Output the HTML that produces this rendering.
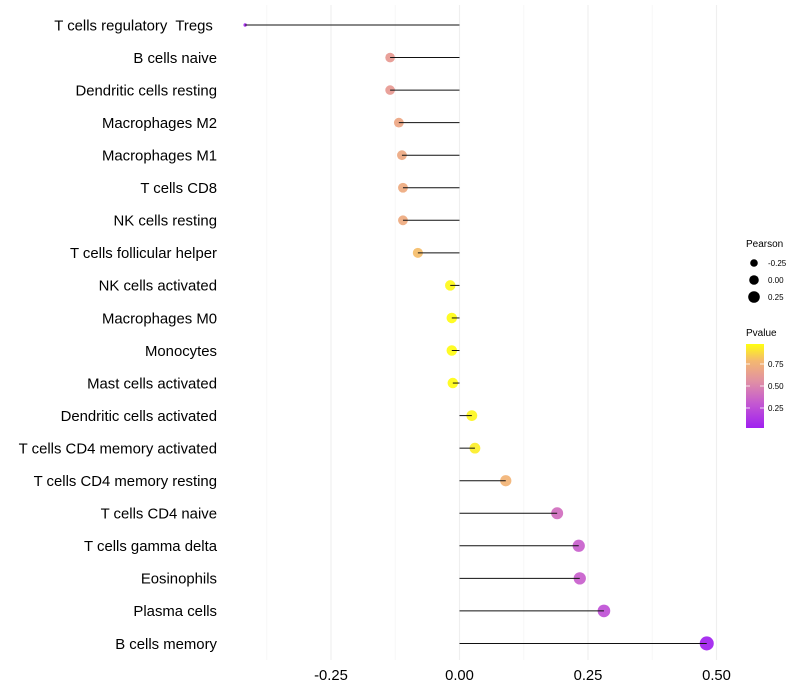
<!DOCTYPE html>
<html><head><meta charset="utf-8"><style>
html,body{margin:0;padding:0;background:#fff;}
svg{display:block;font-family:"Liberation Sans",sans-serif;}
</style></head><body>
<svg id="chart" width="800" height="700" viewBox="0 0 800 700">
<g id="grid"></g>
<g id="marks"></g>
<g id="ylabels"></g>
<g id="xlabels"></g>
<g id="legend">
<defs><linearGradient id="pg" x1="0" y1="1" x2="0" y2="0">
<stop offset="0" stop-color="#a020f0"/><stop offset="0.3" stop-color="#c55ad0"/><stop offset="0.55" stop-color="#e08fa5"/><stop offset="0.8" stop-color="#f4b870"/><stop offset="1" stop-color="#ffff10"/></linearGradient></defs>
<text x="746" y="247" font-size="10">Pearson</text>
<circle cx="754" cy="263" r="3.8" fill="#000"/>
<text x="768" y="266" font-size="8">-0.25</text>
<circle cx="754" cy="280" r="4.8" fill="#000"/>
<text x="768" y="283" font-size="8">0.00</text>
<circle cx="754" cy="297" r="5.8" fill="#000"/>
<text x="768" y="300" font-size="8">0.25</text>
<text x="746" y="336" font-size="10">Pvalue</text>
<rect x="746" y="344" width="18" height="84" fill="url(#pg)"/>
<g stroke="#fff" stroke-width="1" opacity="0.8"><line x1="746" x2="750" y1="364" y2="364"/><line x1="760" x2="764" y1="364" y2="364"/><line x1="746" x2="750" y1="386" y2="386"/><line x1="760" x2="764" y1="386" y2="386"/><line x1="746" x2="750" y1="408" y2="408"/><line x1="760" x2="764" y1="408" y2="408"/></g>
<text x="768" y="367" font-size="8">0.75</text>
<text x="768" y="389" font-size="8">0.50</text>
<text x="768" y="411" font-size="8">0.25</text>
</g>
</svg>
<script>
const categories=["T cells regulatory  Tregs ","B cells naive","Dendritic cells resting","Macrophages M2","Macrophages M1","T cells CD8","NK cells resting","T cells follicular helper","NK cells activated","Macrophages M0","Monocytes","Mast cells activated","Dendritic cells activated","T cells CD4 memory activated","T cells CD4 memory resting","T cells CD4 naive","T cells gamma delta","Eosinophils","Plasma cells","B cells memory"];
const pearson=[-0.417,-0.135,-0.135,-0.118,-0.112,-0.110,-0.110,-0.081,-0.018,-0.015,-0.015,-0.013,0.024,0.030,0.090,0.190,0.232,0.234,0.281,0.481];
const pvalue=[0.05,0.62,0.62,0.69,0.70,0.71,0.71,0.80,0.96,0.97,0.97,0.97,0.95,0.93,0.76,0.40,0.33,0.33,0.26,0.03];
const xTicks=[-0.25,0,0.25,0.5];
const xTickLabels=["-0.25","0.00","0.25","0.50"];
const minorTicks=[-0.375,-0.125,0.125,0.375];
const NS="http://www.w3.org/2000/svg";
function xs(v){return 459.5+v*514;}
function ys(i){return 25+i*32.55;}
function rs(v){return v<=-0.4?1.7:5.3+3.6*v;}
const stops=[[0,[160,32,240]],[0.3,[197,90,208]],[0.55,[226,140,160]],[0.8,[244,184,112]],[1,[255,255,16]]];
function col(p){let t=Math.min(1,Math.max(0,(p-0.023)/0.954));for(let k=1;k<stops.length;k++){if(t<=stops[k][0]){const a=stops[k-1],b=stops[k],f=(t-a[0])/(b[0]-a[0]);return "rgb("+a[1].map((c,j)=>Math.round(c+(b[1][j]-c)*f)).join(",")+")";}}return "rgb(255,255,16)";}
function mk(tag,at,parent){const e=document.createElementNS(NS,tag);for(const k in at)e.setAttribute(k,at[k]);parent.appendChild(e);return e;}
const grid=document.getElementById('grid'),marks=document.getElementById('marks'),yl=document.getElementById('ylabels'),xl=document.getElementById('xlabels');
minorTicks.forEach(v=>{const l=mk('line',{x1:xs(v),x2:xs(v),y1:5,y2:660,stroke:'#f7f7f7','stroke-width':1},grid);

});
xTicks.forEach((v,i)=>{const l=mk('line',{x1:xs(v),x2:xs(v),y1:5,y2:660,stroke:'#efefef','stroke-width':1.1},grid);


const t=mk('text',{x:xs(v),y:680,'font-size':14.8,'text-anchor':'middle',fill:'#000'},xl);t.textContent=xTickLabels[i];

});
categories.forEach((c,i)=>{const y=ys(i),v=pearson[i];
const t=mk('text',{x:217,y:y+5.3,'font-size':14.9,'text-anchor':'end',fill:'#000'},yl);t.textContent=c;
t.style.whiteSpace='pre';


const d=mk('circle',{cx:xs(v),cy:y,r:rs(v),fill:col(pvalue[i]),'fill-opacity':0.92},marks);


const l=mk('line',{x1:xs(0),x2:xs(v),y1:y,y2:y,stroke:'#111','stroke-width':1},marks);

});
</script>
</body></html>
